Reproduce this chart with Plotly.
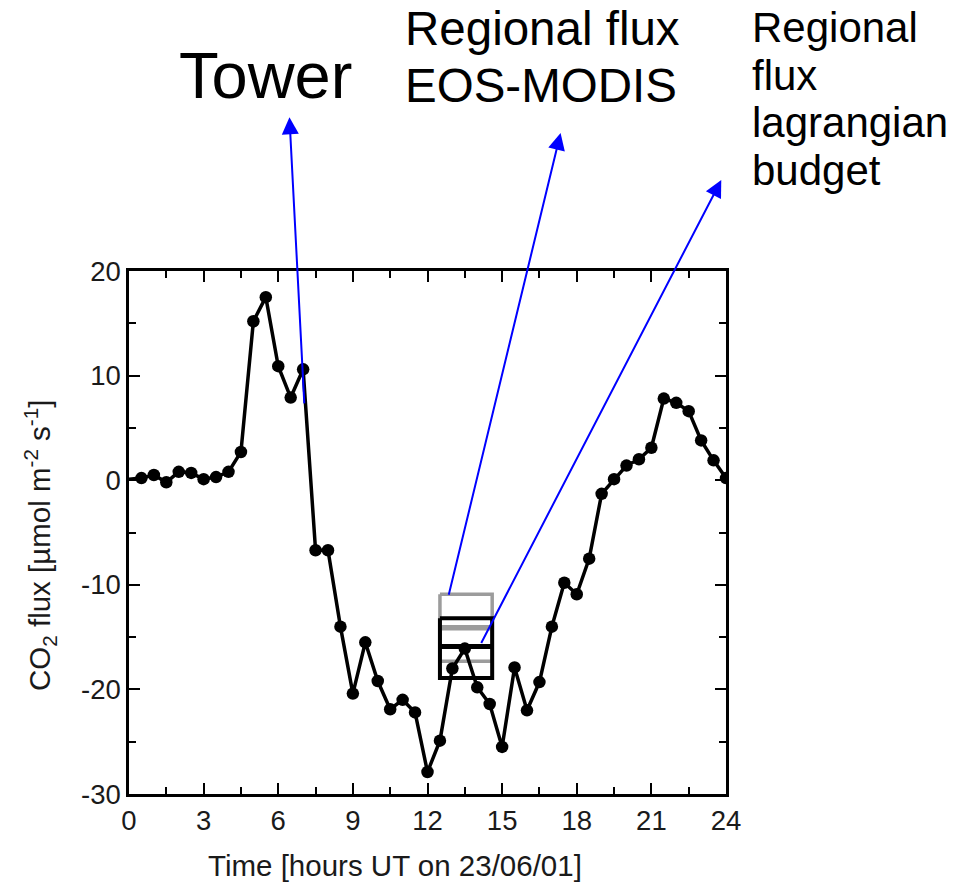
import plotly.graph_objects as go

# ---- data ----
hours = [0.0, 0.5, 1.0, 1.5, 2.0, 2.5, 3.0, 3.5, 4.0, 4.5, 5.0, 5.5, 6.0, 6.5,
         7.0, 7.5, 8.0, 8.5, 9.0, 9.5, 10.0, 10.5, 11.0, 11.5, 12.0, 12.5,
         13.0, 13.5, 14.0, 14.5, 15.0, 15.5, 16.0, 16.5, 17.0, 17.5, 18.0,
         18.5, 19.0, 19.5, 20.0, 20.5, 21.0, 21.5, 22.0, 22.5, 23.0, 23.5, 24.0]
tower_flux = [0.1, 0.2, 0.5, -0.2, 0.8, 0.7, 0.1, 0.3, 0.8, 2.7, 15.2, 17.5,
              10.9, 7.9, 10.6, -6.7, -6.7, -14.0, -20.4, -15.5, -19.2, -21.9,
              -21.0, -22.2, -27.9, -24.9, -18.0, -16.1, -19.8, -21.4, -25.5,
              -17.9, -22.0, -19.3, -14.0, -9.8, -10.9, -7.5, -1.3, 0.1, 1.4,
              2.0, 3.1, 7.8, 7.4, 6.6, 3.8, 1.9, 0.2]

box_hours = [12.5, 14.6]
modis_flux = {"top": -10.9, "mid": -14.1, "bot": -17.3}
lagr_flux = {"top": -13.2, "mid": -15.9, "bot": -18.9}

x_ticks = [0, 3, 6, 9, 12, 15, 18, 21, 24]
y_ticks = [20, 10, 0, -10, -20, -30]

FONT = "Liberation Sans, Arial, sans-serif"
GRAY = "#9c9c9c"
TXT = "#1a1a1a"

fig = go.Figure()


def box_traces(vals, color, edge_w, mid_w):
    x0, x1 = box_hours
    fig.add_trace(go.Scatter(
        x=[x0, x1, x1, x0, x0],
        y=[vals["top"], vals["top"], vals["bot"], vals["bot"], vals["top"]],
        mode="lines", line=dict(color=color, width=edge_w),
        hoverinfo="skip", showlegend=False))
    fig.add_trace(go.Scatter(
        x=[x0, x1], y=[vals["mid"], vals["mid"]],
        mode="lines", line=dict(color=color, width=mid_w),
        hoverinfo="skip", showlegend=False))


box_traces(modis_flux, GRAY, 3.5, 5.5)
box_traces(lagr_flux, "black", 4, 5)

sizes = [0] + [12.5] * (len(hours) - 1)
fig.add_trace(go.Scatter(
    x=hours, y=tower_flux, mode="lines+markers",
    line=dict(color="black", width=3.5),
    marker=dict(color="black", size=sizes, opacity=1,
                line=dict(width=0)),
    showlegend=False))

# ---- geometry helpers (pixels -> paper) ----
L, R, T, B = 129, 238, 271, 91
W, H = 964, 885
PW, PH = W - L - R, H - T - B


def px(xp):
    return (xp - L) / PW


def py(yp):
    return (H - B - yp) / PH


ann = []
# arrows (head at x,y ; tail at ax,ay) in data coordinates
arrows = [((6.45, 34.7), (7.05, 7.2)),
          ((17.35, 33.2), (12.84, -11.1)),
          ((23.81, 28.7), (14.13, -15.7))]
for (hx, hy), (tx, ty) in arrows:
    ann.append(dict(x=hx, y=hy, xref="x", yref="y", ax=tx, ay=ty,
                    axref="x", ayref="y", text="", showarrow=True,
                    arrowhead=2, arrowsize=1.7, arrowwidth=2,
                    arrowcolor="#0000ff"))

# labels
ann.append(dict(text="Tower", x=px(265.5), y=py(75), xref="paper", yref="paper",
                xanchor="center", yanchor="middle", showarrow=False,
                font=dict(family=FONT, size=65, color="black")))
for txt, base in [("Regional flux", 45), ("EOS-MODIS", 102)]:
    ann.append(dict(text=txt, x=px(403), y=py(base - 16.5), xref="paper",
                    yref="paper", xanchor="left", yanchor="middle",
                    showarrow=False,
                    font=dict(family=FONT, size=47.5, color="black")))
for txt, base in [("Regional", 42), ("flux", 90), ("lagrangian", 137.5),
                  ("budget", 185)]:
    ann.append(dict(text=txt, x=px(750), y=py(base - 14.7), xref="paper",
                    yref="paper", xanchor="left", yanchor="middle",
                    showarrow=False,
                    font=dict(family=FONT, size=42, color="black")))

# axis titles
ann.append(dict(text="Time [hours UT on 23/06/01]", x=px(395), y=py(865),
                xref="paper", yref="paper", xanchor="center", yanchor="middle",
                showarrow=False, font=dict(family=FONT, size=29.5, color=TXT)))
ann.append(dict(text="CO<sub>2</sub> flux [µmol m<sup>-2</sup> s<sup>-1</sup>]",
                x=px(40), y=py(546), xref="paper", yref="paper",
                xanchor="center", yanchor="middle", textangle=-90,
                showarrow=False, font=dict(family=FONT, size=29.5, color=TXT)))

axis_common = dict(showline=True, linewidth=2.5, linecolor="black",
                   mirror="ticks", ticks="inside", ticklen=11, tickwidth=2,
                   tickcolor="black", showgrid=False, zeroline=False,
                   tickfont=dict(family=FONT, size=27.5, color=TXT))

fig.update_layout(
    width=W, height=H,
    margin=dict(l=L, r=R, t=T, b=B),
    paper_bgcolor="white", plot_bgcolor="white",
    xaxis=dict(range=[0, 24], tickvals=x_ticks,
               ticktext=[str(v) for v in x_ticks],
               minor=dict(ticks="inside", ticklen=7, tickwidth=2,
                          tickcolor="black", dtick=1.5, tick0=0),
               **axis_common),
    yaxis=dict(range=[-30, 20], tickvals=y_ticks,
               ticktext=[str(v) for v in y_ticks],
               minor=dict(ticks="inside", ticklen=7, tickwidth=2,
                          tickcolor="black", dtick=5, tick0=0),
               **axis_common),
    annotations=ann,
)

fig.write_html("out.html",
               config={"displayModeBar": False},
               post_script="document.body.style.margin='0px';"
                           "document.body.style.overflow='hidden';")
